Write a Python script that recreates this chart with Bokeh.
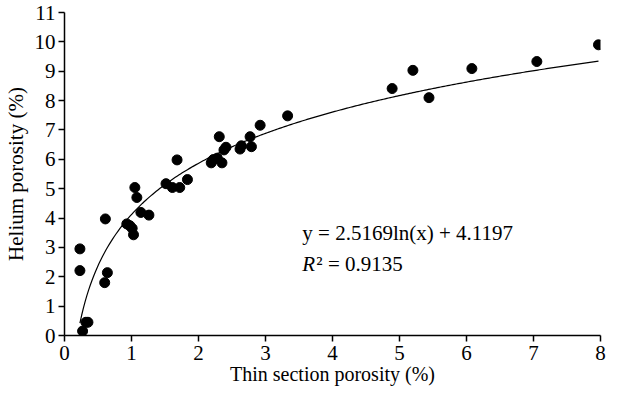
import numpy as np
from bokeh.plotting import figure
from bokeh.models import Label, FixedTicker
from bokeh.embed import file_html
from bokeh.resources import INLINE

# Measured data (thin section porosity %, helium porosity %)
thin_porosity = [0.23, 0.23, 0.27, 0.32, 0.35, 0.60, 0.61, 0.64, 0.93, 0.975, 1.01, 1.03,
                 1.05, 1.08, 1.14, 1.26, 1.515, 1.61, 1.68, 1.72, 1.835, 2.19, 2.22, 2.28,
                 2.31, 2.35, 2.38, 2.41, 2.62, 2.64, 2.77, 2.79, 2.92, 3.33, 4.89, 5.20,
                 5.44, 6.08, 7.05, 7.97]
helium_porosity = [2.95, 2.21, 0.15, 0.45, 0.45, 1.80, 3.97, 2.14, 3.80, 3.74, 3.65, 3.43,
                   5.04, 4.70, 4.19, 4.10, 5.17, 5.04, 5.98, 5.04, 5.31, 5.88, 5.99, 6.04,
                   6.77, 5.88, 6.32, 6.41, 6.35, 6.46, 6.77, 6.43, 7.16, 7.48, 8.41, 9.03,
                   8.10, 9.09, 9.33, 9.90]

# Logarithmic fit y = a ln(x) + b
fit_a = 2.5169
fit_b = 4.1197
fit_x_range = [0.23, 7.97]

x_ticks = [0, 1, 2, 3, 4, 5, 6, 7, 8]
y_ticks = [0, 1, 2, 3, 4, 5, 6, 7, 8, 9, 10, 11]

SERIF = "Liberation Serif"

p = figure(width=611, height=387, output_backend="svg", toolbar_location=None,
           x_range=(0, 8), y_range=(0, 11),
           min_border_left=54, min_border_right=11, min_border_top=12, min_border_bottom=52)
p.outline_line_color = None
p.xgrid.grid_line_color = None
p.ygrid.grid_line_color = None
p.background_fill_color = "white"

fx = np.linspace(fit_x_range[0], fit_x_range[1], 300)
fy = fit_a * np.log(fx) + fit_b
p.line(fx, fy, line_color="black", line_width=1.2)

p.scatter(thin_porosity, helium_porosity, size=10, marker="circle",
          fill_color="black", line_color="black")

for ax, ticks in ((p.xaxis, x_ticks), (p.yaxis, y_ticks)):
    ax.ticker = FixedTicker(ticks=ticks)
    ax.axis_line_color = "black"
    ax.axis_line_width = 1.5
    ax.major_tick_line_color = "black"
    ax.major_tick_line_width = 1.5
    ax.major_tick_out = 6
    ax.major_tick_in = 0
    ax.minor_tick_line_color = None
    ax.major_label_text_font = SERIF
    ax.major_label_text_font_size = "21px"
    ax.major_label_text_color = "black"
    ax.axis_label_text_font = SERIF
    ax.axis_label_text_font_style = "normal"
    ax.axis_label_text_color = "black"

p.xaxis.axis_label = "Thin section porosity (%)"
p.yaxis.axis_label = "Helium porosity (%)"
p.xaxis.axis_label_text_font_size = "20px"
p.yaxis.axis_label_text_font_size = "21px"
p.xaxis.major_label_standoff = 4
p.yaxis.major_label_standoff = 3
p.xaxis.axis_label_standoff = 0
p.yaxis.axis_label_standoff = 4

p.add_layout(Label(x=3.55, y=3.5, text="y = 2.5169ln(x) + 4.1197", text_font=SERIF,
                   text_font_size="21px", text_baseline="middle", text_color="black"))
p.add_layout(Label(x=3.55, y=2.42, text="R", text_font=SERIF, text_font_style="italic",
                   text_font_size="21px", text_baseline="middle", text_color="black"))
p.add_layout(Label(x=3.55, y=2.42, x_offset=14, text="² = 0.9135", text_font=SERIF,
                   text_font_size="21px", text_baseline="middle", text_color="black"))

open("out.html", "w").write(file_html(p, INLINE))
